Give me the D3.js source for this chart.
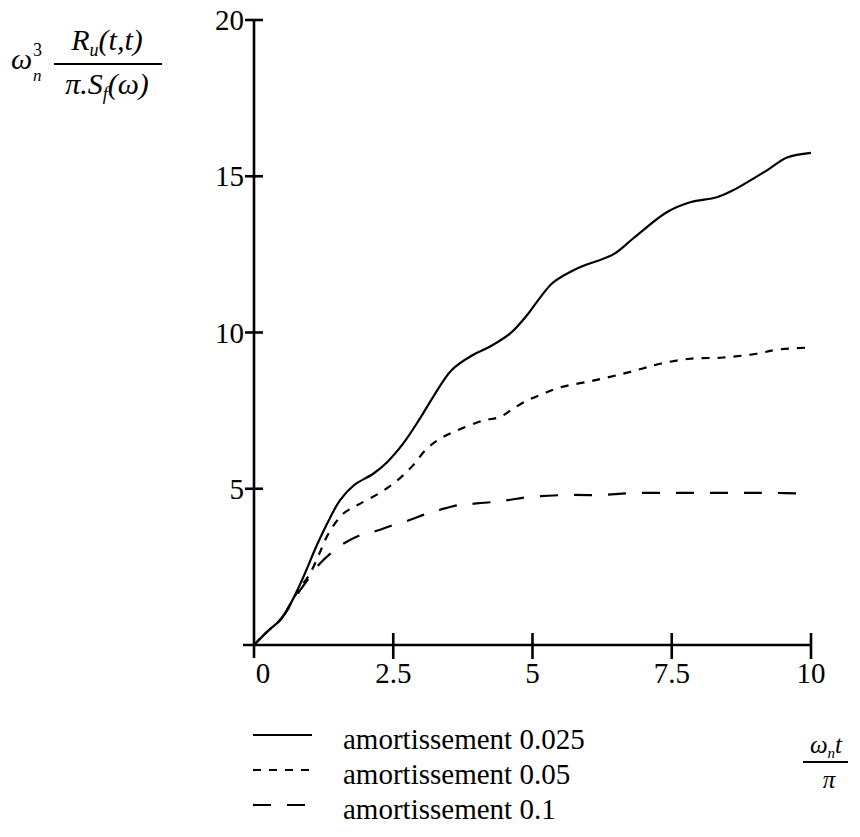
<!DOCTYPE html>
<html>
<head>
<meta charset="utf-8">
<script src="https://cdn.jsdelivr.net/npm/d3@7"></script>
<style>
  html, body { margin: 0; padding: 0; background: #fff; }
  svg { display: block; }
  svg text { font-family: "Liberation Serif", "Times New Roman", Times, "DejaVu Serif", serif; }
</style>
</head>
<body>
<svg id="chart" width="860" height="837"></svg>
<script>
// Normalised variance response for three damping ratios
const xTicks = [0, 2.5, 5, 7.5, 10];
const yTicks = [5, 10, 15, 20];

const seriesNames = ["amortissement 0.025", "amortissement 0.05", "amortissement 0.1"];

const x025 = [0, 0.25, 0.47, 0.65, 0.88, 1.13, 1.36, 1.54, 1.8, 2.14, 2.39, 2.68, 2.98, 3.22, 3.55, 3.93, 4.24, 4.6, 4.9, 5.13, 5.37, 5.8, 6.45, 6.8, 7.41, 7.83, 8.31, 8.6, 9.21, 9.57, 10];
const y025 = [0, 0.45, 0.8, 1.3, 2.15, 3.2, 4.05, 4.62, 5.12, 5.48, 5.85, 6.45, 7.25, 7.95, 8.8, 9.28, 9.55, 9.97, 10.55, 11.1, 11.6, 12.05, 12.5, 13.0, 13.85, 14.17, 14.33, 14.55, 15.19, 15.6, 15.75];

const x05 = [0, 0.25, 0.47, 0.65, 0.79, 1.0, 1.18, 1.27, 1.4, 1.6, 1.85, 2.26, 2.57, 2.85, 3.1, 3.34, 3.64, 4.11, 4.42, 4.65, 4.9, 5.19, 5.49, 6.09, 6.62, 6.98, 7.29, 7.83, 8.42, 9.03, 9.39, 10];
const y05 = [0, 0.45, 0.8, 1.3, 1.73, 2.27, 2.95, 3.33, 3.75, 4.2, 4.47, 4.87, 5.26, 5.74, 6.28, 6.6, 6.86, 7.18, 7.3, 7.56, 7.82, 8.04, 8.24, 8.46, 8.68, 8.85, 9.0, 9.16, 9.2, 9.32, 9.45, 9.52];

const x1 = [0, 0.25, 0.47, 0.65, 0.77, 0.95, 1.18, 1.42, 1.6, 1.96, 2.14, 2.57, 2.75, 3.1, 3.34, 3.7, 3.93, 4.42, 4.96, 5.6, 6.2, 6.8, 7.41, 8.0, 8.6, 9.2, 10];
const y1 = [0, 0.45, 0.8, 1.25, 1.6, 2.05, 2.6, 3.0, 3.24, 3.55, 3.62, 3.88, 3.97, 4.2, 4.33, 4.49, 4.52, 4.6, 4.74, 4.8, 4.8, 4.86, 4.87, 4.87, 4.87, 4.87, 4.84];

const dashes = [null, "8,8", "18,16"];

const series = [
  { name: seriesNames[0], xs: x025, ys: y025, dash: dashes[0] },
  { name: seriesNames[1], xs: x05, ys: y05, dash: dashes[1] },
  { name: seriesNames[2], xs: x1, ys: y1, dash: dashes[2] }
];

const svg = d3.select("#chart");

const x = d3.scaleLinear().domain([0, 10]).range([254, 811]);
const y = d3.scaleLinear().domain([0, 20]).range([645, 20]);

// Axes: plain lines with ticks crossing them
const axisG = svg.append("g").attr("stroke", "#000").attr("stroke-width", 2.6);
axisG.append("line").attr("x1", x(0)).attr("x2", x(0)).attr("y1", y(20)).attr("y2", y(0) + 13);
axisG.append("line").attr("x1", x(0) - 11).attr("x2", x(10)).attr("y1", y(0)).attr("y2", y(0));
axisG.selectAll(".yt").data(yTicks).join("line")
  .attr("x1", x(0) - 9).attr("x2", x(0) + 9)
  .attr("y1", d => y(d)).attr("y2", d => y(d));
axisG.selectAll(".xt").data(xTicks.slice(1)).join("line")
  .attr("x1", d => x(d)).attr("x2", d => x(d))
  .attr("y1", y(0) - 12).attr("y2", y(0) + 14);

svg.selectAll(".ylab").data(yTicks).join("text")
  .attr("x", x(0) - 10).attr("y", d => y(d))
  .attr("dy", "0.35em").attr("text-anchor", "end")
  .attr("font-size", 29).text(d => d);

svg.selectAll(".xlab").data(xTicks).join("text")
  .attr("x", d => x(d) + (d === 0 ? 9 : 0)).attr("y", y(0) + 38)
  .attr("text-anchor", "middle")
  .attr("font-size", 29).text(d => d);

// Curves
const line = d3.line().x(d => x(d[0])).y(d => y(d[1])).curve(d3.curveCatmullRom.alpha(0.5));
series.forEach(s => {
  const pts = s.xs.map((v, i) => [v, s.ys[i]]);
  svg.append("path").datum(pts)
    .attr("d", line)
    .attr("fill", "none").attr("stroke", "#000").attr("stroke-width", 2.2)
    .attr("stroke-dasharray", s.dash);
});

// Legend
const legend = svg.append("g");
series.forEach((s, i) => {
  const baseY = 749 + i * 35;
  legend.append("line")
    .attr("x1", 253).attr("x2", 312)
    .attr("y1", baseY - 14).attr("y2", baseY - 14)
    .attr("stroke", "#000").attr("stroke-width", 2.2)
    .attr("stroke-dasharray", s.dash);
  legend.append("text").attr("x", 343).attr("y", baseY)
    .attr("font-size", 29).text(s.name);
});

// Y-axis title: ω_n^3 R_u(t,t) / (π.S_f(ω))
const yt = svg.append("g").attr("font-style", "italic");
yt.append("text").attr("x", 11).attr("y", 69).attr("font-size", 30).text("ω");
yt.append("text").attr("x", 33).attr("y", 56).attr("font-size", 18).attr("font-style", "normal").text("3");
yt.append("text").attr("x", 33).attr("y", 81).attr("font-size", 17).text("n");
const num = yt.append("text").attr("x", 107).attr("y", 50).attr("text-anchor", "middle").attr("font-size", 30);
num.append("tspan").text("R");
num.append("tspan").attr("font-size", 18).attr("dy", 6).text("u");
num.append("tspan").attr("dy", -6).text("(t,t)");
yt.append("line").attr("x1", 54).attr("x2", 162).attr("y1", 64).attr("y2", 64)
  .attr("stroke", "#000").attr("stroke-width", 1.8);
const den = yt.append("text").attr("x", 107).attr("y", 94).attr("text-anchor", "middle").attr("font-size", 30);
den.append("tspan").text("π.S");
den.append("tspan").attr("font-size", 18).attr("dy", 6).text("f");
den.append("tspan").attr("dy", -6).text("(ω)");

// X-axis title: ω_n t / π
const xt = svg.append("g").attr("font-style", "italic");
const xnum = xt.append("text").attr("x", 826).attr("y", 753).attr("text-anchor", "middle").attr("font-size", 25);
xnum.append("tspan").text("ω");
xnum.append("tspan").attr("font-size", 15).attr("dy", 5).text("n");
xnum.append("tspan").attr("dy", -5).text("t");
xt.append("line").attr("x1", 803).attr("x2", 848).attr("y1", 762).attr("y2", 762)
  .attr("stroke", "#000").attr("stroke-width", 1.8);
xt.append("text").attr("x", 829).attr("y", 788).attr("text-anchor", "middle").attr("font-size", 25).text("π");
</script>
</body>
</html>
